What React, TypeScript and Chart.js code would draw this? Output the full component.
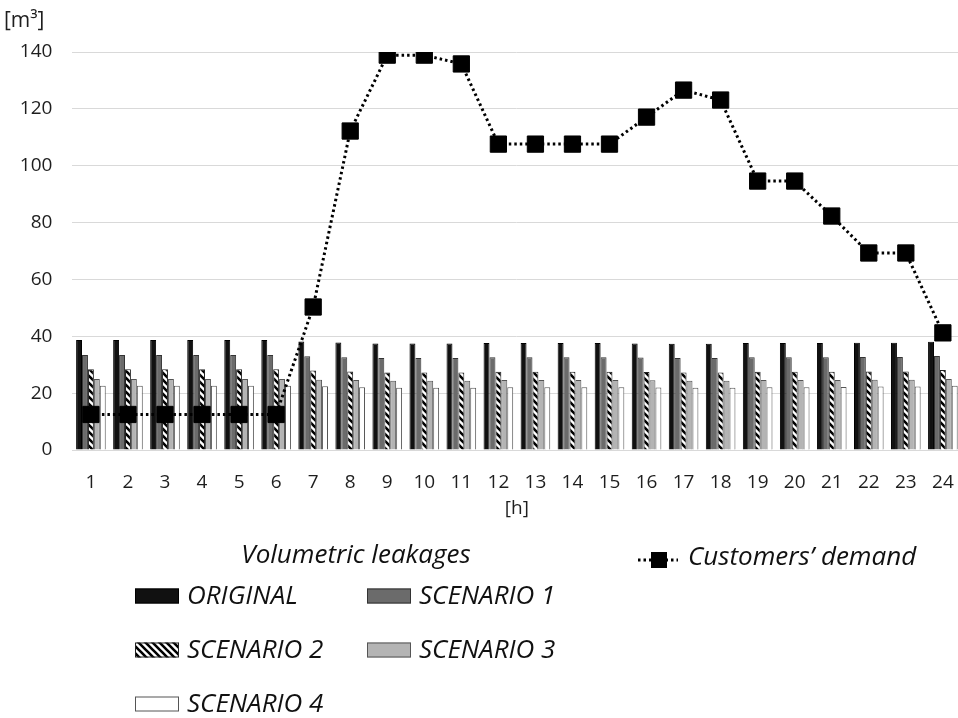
import React, { useEffect, useRef } from "react";
import { Chart, registerables } from "chart.js";

Chart.register(...registerables);

const HOURS = ["1","2","3","4","5","6","7","8","9","10","11","12","13","14","15","16","17","18","19","20","21","22","23","24"];
const Y_TICKS = [0, 20, 40, 60, 80, 100, 120, 140];

const ORIGINAL = [38.7,38.7,38.7,38.7,38.7,38.7,38.2,37.8,37.5,37.5,37.5,37.6,37.6,37.6,37.6,37.5,37.4,37.4,37.6,37.6,37.6,37.7,37.7,38.1];
const SCENARIO_1 = [33.4,33.4,33.4,33.4,33.4,33.4,33.0,32.6,32.4,32.4,32.4,32.6,32.6,32.6,32.6,32.5,32.4,32.4,32.6,32.6,32.6,32.7,32.7,33.1];
const SCENARIO_2 = [28.4,28.4,28.4,28.4,28.4,28.4,28.0,27.6,27.3,27.3,27.3,27.5,27.5,27.5,27.5,27.4,27.3,27.3,27.5,27.5,27.5,27.6,27.6,28.1];
const SCENARIO_3 = [25.0,25.0,25.0,25.0,25.0,25.0,24.7,24.6,24.4,24.4,24.4,24.6,24.6,24.6,24.6,24.5,24.4,24.4,24.6,24.6,24.6,24.7,24.7,25.0];
const SCENARIO_4 = [22.6,22.6,22.6,22.6,22.6,22.6,22.4,22.1,21.9,21.9,21.9,22.1,22.1,22.1,22.1,22.0,21.9,21.9,22.1,22.1,22.2,22.3,22.3,22.6];
const DEMAND = [12.5,12.5,12.5,12.5,12.5,12.5,50.3,112.2,138.9,138.9,135.8,107.6,107.6,107.6,107.6,117.1,126.6,123.1,94.6,94.6,82.3,69.3,69.3,41.2];

const FONT = "'Open Sans', 'Noto Sans', sans-serif";
const TEXT = "#1e1e1e";

function makeHatch(): CanvasPattern | string {
  const s = 7;
  const c = document.createElement("canvas");
  c.width = s;
  c.height = s;
  const g = c.getContext("2d");
  if (!g) return "#888";
  g.fillStyle = "#fff";
  g.fillRect(0, 0, s, s);
  g.strokeStyle = "#000";
  g.lineWidth = 2.6;
  g.beginPath();
  g.moveTo(-2, -2);
  g.lineTo(s + 2, s + 2);
  g.moveTo(-2, s - 2);
  g.lineTo(2, s + 2);
  g.moveTo(s - 2, -2);
  g.lineTo(s + 2, 2);
  g.stroke();
  const p = g.createPattern(c, "repeat");
  return p || "#888";
}

export default function App() {
  const ref = useRef<HTMLCanvasElement | null>(null);

  useEffect(() => {
    if (!ref.current) return;
    const hatch = makeHatch();

    const barItems = [
      { label: "ORIGINAL", fill: "#111111", border: "#000000" },
      { label: "SCENARIO 1", fill: "#6b6b6b", border: "#333333" },
      { label: "SCENARIO 2", fill: hatch, border: "#222222" },
      { label: "SCENARIO 3", fill: "#b4b4b4", border: "#555555" },
      { label: "SCENARIO 4", fill: "#ffffff", border: "#555555" },
    ];
    const seriesData = [ORIGINAL, SCENARIO_1, SCENARIO_2, SCENARIO_3, SCENARIO_4];

    const legendPlugin = {
      id: "customLegend",
      afterDraw(chart: any) {
        const ctx: CanvasRenderingContext2D = chart.ctx;
        ctx.save();
        // y unit label
        ctx.fillStyle = TEXT;
        ctx.font = `21px ${FONT}`;
        ctx.textAlign = "left";
        ctx.textBaseline = "middle";
        ctx.fillText("[m³]", 4, 21);

        // legend title
        ctx.font = `italic 26px ${FONT}`;
        ctx.fillStyle = "#111";
        ctx.textAlign = "center";
        ctx.fillText("Volumetric leakages", 356, 556);

        const pos = [
          { x: 135, y: 596 },
          { x: 367, y: 596 },
          { x: 135, y: 650 },
          { x: 367, y: 650 },
          { x: 135, y: 704 },
        ];
        ctx.textAlign = "left";
        barItems.forEach((it, i) => {
          const p = pos[i];
          ctx.fillStyle = it.fill as any;
          ctx.fillRect(p.x, p.y - 7.5, 44, 15);
          ctx.strokeStyle = it.border;
          ctx.lineWidth = 1;
          ctx.strokeRect(p.x + 0.5, p.y - 7, 43, 14);
          ctx.fillStyle = "#111";
          ctx.font = `italic 26px ${FONT}`;
          ctx.fillText(it.label, p.x + 52, p.y + 1);
        });

        // demand legend
        ctx.strokeStyle = "#000";
        ctx.lineWidth = 3;
        ctx.setLineDash([2.5, 3]);
        ctx.beginPath();
        ctx.moveTo(638, 560);
        ctx.lineTo(678, 560);
        ctx.stroke();
        ctx.setLineDash([]);
        ctx.fillStyle = "#000";
        ctx.fillRect(651, 552, 16, 16);
        ctx.fillStyle = "#111";
        ctx.font = `italic 26px ${FONT}`;
        ctx.fillText("Customers’ demand", 688, 558);
        ctx.restore();
      },
    };

    const datasets: any[] = barItems.map((it, i) => ({
      type: "bar",
      label: it.label,
      data: seriesData[i],
      backgroundColor: it.fill,
      borderColor: it.border,
      borderWidth: 1,
      barPercentage: 1,
      categoryPercentage: 0.8,
      order: 1,
    }));
    datasets.push({
      type: "line",
      label: "Customers’ demand",
      data: DEMAND,
      borderColor: "#000",
      borderWidth: 3,
      borderDash: [2.5, 3],
      fill: false,
      tension: 0,
      pointStyle: "rect",
      pointRadius: 11.5,
      pointBackgroundColor: "#000",
      pointBorderColor: "#000",
      pointBorderWidth: 1,
      order: 0,
    });

    const chart = new Chart(ref.current, {
      type: "bar",
      data: { labels: HOURS, datasets },
      plugins: [legendPlugin],
      options: {
        responsive: false,
        animation: false,
        devicePixelRatio: 1,
        layout: { padding: { left: 0, top: 52, right: 8.4, bottom: 198 } },
        plugins: {
          legend: { display: false },
          tooltip: { enabled: false },
          title: { display: false },
        },
        scales: {
          x: {
            offset: true,
            grid: { display: false, drawTicks: false },
            border: { display: true, color: "#d9d9d9", width: 1 },
            ticks: {
              color: TEXT,
              font: { family: FONT, size: 19 },
              padding: 21,
              maxRotation: 0,
              autoSkip: false,
            },
            title: {
              display: true,
              text: "[h]",
              color: TEXT,
              font: { family: FONT, size: 19 },
              padding: { top: 0, bottom: 0 },
            },
            afterFit(scale: any) {
              scale.height = 70;
            },
          },
          y: {
            min: 0,
            max: 140,
            afterBuildTicks(scale: any) {
              scale.ticks = Y_TICKS.map((v) => ({ value: v }));
            },
            grid: { color: "#d9d9d9", lineWidth: 1, drawTicks: false },
            border: { display: false },
            ticks: {
              color: TEXT,
              font: { family: FONT, size: 19 },
              padding: 20,
            },
            afterFit(scale: any) {
              scale.width = 72.4;
            },
          },
        },
      },
    });
    return () => chart.destroy();
  }, []);

  return (
    <div
      style={{
        position: "fixed",
        left: 0,
        top: 0,
        width: 958,
        height: 718,
        overflow: "hidden",
        background: "#fff",
      }}
    >
      <canvas ref={ref} width={975} height={718} style={{ display: "block", width: 975, height: 718 }} />
    </div>
  );
}
